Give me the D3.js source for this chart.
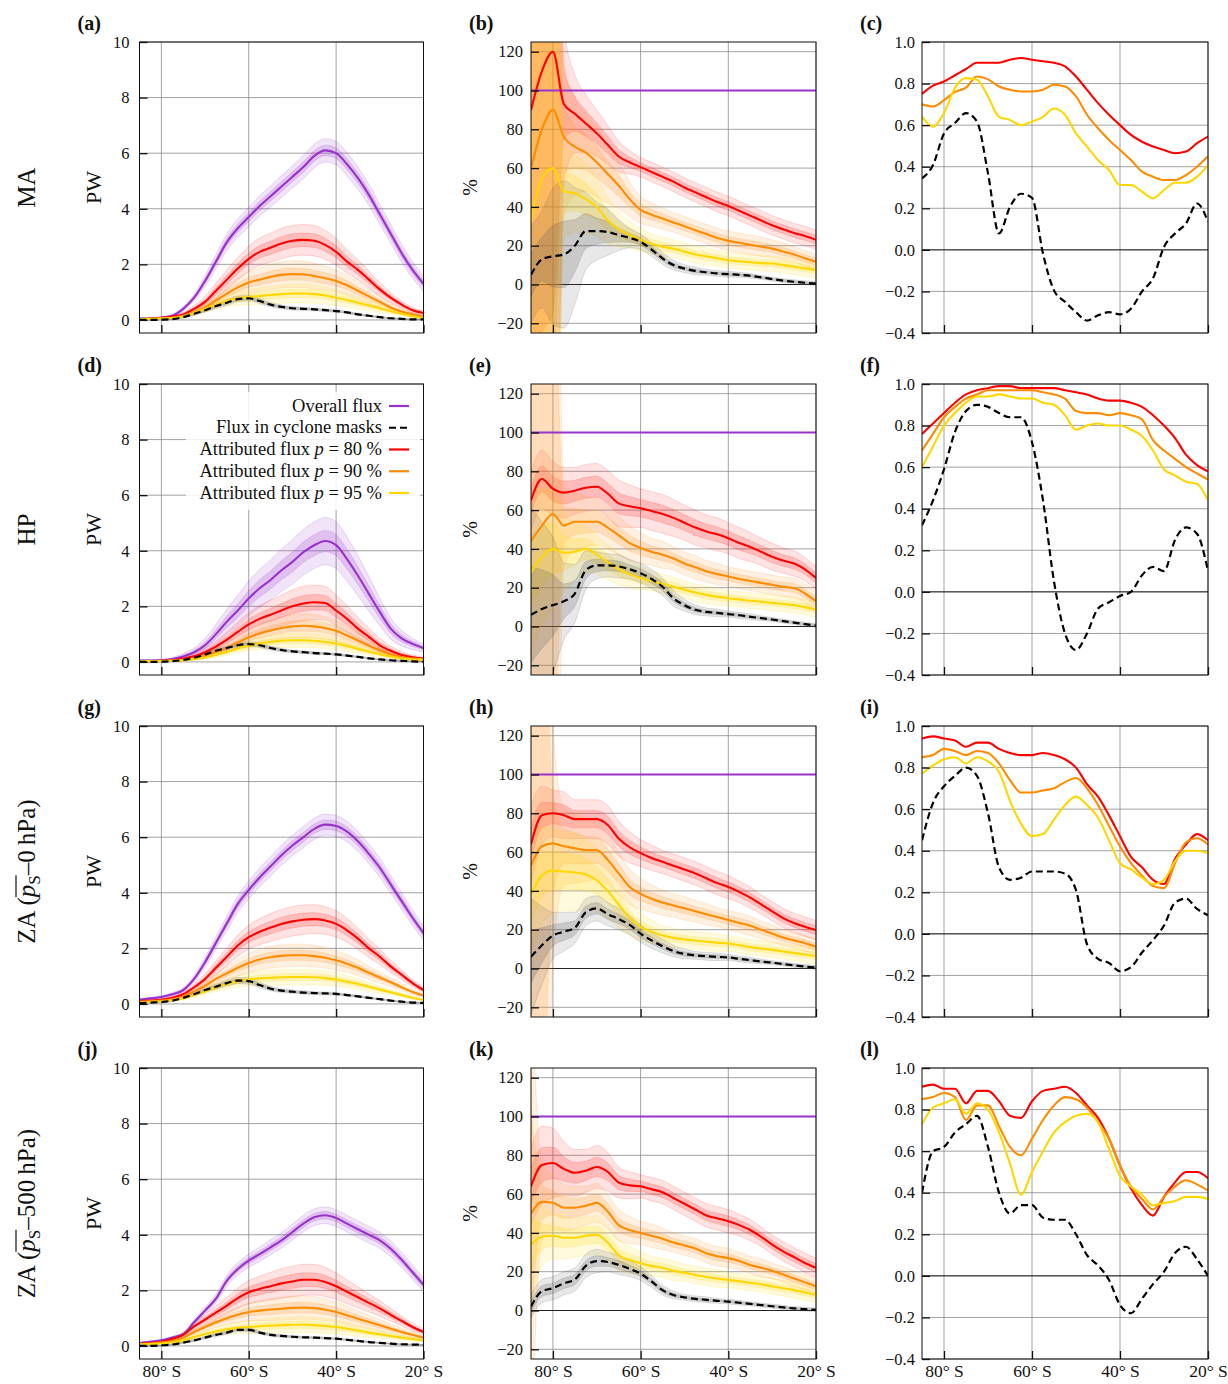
<!DOCTYPE html>
<html><head><meta charset="utf-8">
<script src="https://cdn.jsdelivr.net/npm/d3@7"></script>
<style>
body{margin:0;background:#fff}
text{font-family:"Liberation Serif","DejaVu Serif",serif;fill:#111}
</style>
</head><body>
<svg id="c" width="1228" height="1384"></svg>
<script>
// ---------------- DATA ----------------
const lat = [-85,-82.5,-80,-77.5,-75,-72.5,-70,-67.5,-65,-62.5,-60,-57.5,-55,-52.5,-50,-47.5,-45,-42.5,-40,-37.5,-35,-32.5,-30,-27.5,-25,-22.5,-20];
const xTickValues = [-80,-60,-40,-20];
const fluxTicks = [0,2,4,6,8,10];
const pctTicks = [-20,0,20,40,60,80,100,120];
const corrTicks = [-0.4,-0.2,0,0.2,0.4,0.6,0.8,1.0];
const rowLabels = ["MA","HP","ZA0","ZA500"];
const panelLetters = ["a","b","c","d","e","f","g","h","i","j","k","l"];
const legendLabels = ["Overall flux","Flux in cyclone masks","Attributed flux p = 80 %","Attributed flux p = 90 %","Attributed flux p = 95 %"];
const OVERALL_PCT = 100;

// ---- (a) MA flux, PW ----
const MA_flux_overall = [0.05,0.06,0.08,0.15,0.4,0.8,1.4,2.1,2.8,3.3,3.7,4.1,4.45,4.8,5.15,5.5,5.9,6.1,6.0,5.6,5.1,4.5,3.8,3.1,2.4,1.8,1.3];
const MA_flux_p80 = [0.03,0.04,0.08,0.12,0.2,0.4,0.65,1.05,1.45,1.85,2.2,2.45,2.6,2.75,2.85,2.88,2.85,2.7,2.45,2.1,1.8,1.45,1.1,0.8,0.55,0.35,0.25];
const MA_flux_p90 = [0.03,0.04,0.06,0.08,0.15,0.28,0.45,0.7,0.95,1.17,1.35,1.45,1.55,1.62,1.65,1.64,1.58,1.5,1.4,1.25,1.05,0.85,0.65,0.45,0.3,0.2,0.12];
const MA_flux_p95 = [0.03,0.04,0.05,0.07,0.12,0.25,0.4,0.55,0.68,0.77,0.82,0.86,0.9,0.93,0.95,0.95,0.93,0.88,0.8,0.72,0.62,0.52,0.42,0.32,0.22,0.13,0.07];
const MA_flux_cyc = [0,0,0.01,0.03,0.1,0.22,0.35,0.5,0.62,0.75,0.78,0.68,0.55,0.47,0.42,0.4,0.38,0.35,0.32,0.27,0.2,0.15,0.1,0.06,0.04,0.02,0.02];
const MA_flux_overall_sd = [.03,.03,.04,.05,.08,.12,.2,.25,.3,.33,.35,.37,.38,.4,.4,.42,.42,.42,.42,.42,.4,.38,.36,.34,.32,.3,.28];
const MA_flux_p80_sd = [.02,.02,.03,.04,.07,.12,.2,.28,.35,.4,.45,.5,.52,.55,.55,.55,.55,.52,.48,.42,.36,.3,.24,.18,.13,.1,.08];
const MA_flux_p90_sd = [.02,.02,.02,.03,.06,.1,.15,.22,.28,.33,.38,.42,.45,.47,.48,.48,.46,.43,.4,.36,.31,.26,.2,.15,.1,.07,.05];
const MA_flux_p95_sd = [.02,.02,.02,.03,.05,.08,.12,.16,.2,.24,.27,.3,.32,.33,.34,.34,.33,.31,.28,.25,.22,.18,.14,.1,.07,.05,.03];
const MA_flux_cyc_sd = [.01,.01,.01,.02,.03,.05,.07,.09,.1,.1,.1,.09,.08,.07,.06,.06,.05,.05,.05,.04,.04,.03,.03,.02,.02,.02,.02];

// ---- (d) HP flux ----
const HP_flux_overall = [0.05,0.05,0.06,0.1,0.2,0.35,0.6,1.0,1.45,1.85,2.28,2.65,2.95,3.3,3.6,3.95,4.2,4.35,4.2,3.7,3.1,2.45,1.8,1.2,0.85,0.65,0.5];
const HP_flux_p80 = [0.03,0.03,0.04,0.06,0.12,0.2,0.35,0.55,0.8,1.08,1.35,1.55,1.7,1.85,2.0,2.1,2.15,2.12,1.85,1.55,1.2,0.9,0.6,0.4,0.25,0.17,0.12];
const HP_flux_p90 = [0.03,0.03,0.04,0.05,0.08,0.13,0.22,0.36,0.5,0.7,0.88,1.02,1.13,1.22,1.28,1.3,1.28,1.22,1.12,0.95,0.77,0.58,0.42,0.28,0.18,0.12,0.1];
const HP_flux_p95 = [0.03,0.03,0.03,0.04,0.06,0.1,0.16,0.26,0.36,0.48,0.58,0.66,0.72,0.76,0.78,0.78,0.76,0.72,0.66,0.57,0.47,0.37,0.28,0.2,0.13,0.09,0.07];
const HP_flux_cyc = [0,0,0.01,0.03,0.07,0.15,0.27,0.4,0.5,0.6,0.64,0.6,0.5,0.43,0.38,0.35,0.32,0.3,0.27,0.23,0.18,0.13,0.09,0.06,0.04,0.02,0.01];
const HP_flux_overall_sd = [.03,.03,.04,.06,.1,.15,.25,.35,.45,.55,.62,.68,.72,.76,.8,.82,.84,.85,.84,.8,.72,.62,.5,.38,.28,.2,.15];
const HP_flux_p80_sd = [.02,.02,.02,.03,.05,.08,.14,.2,.28,.35,.42,.48,.52,.56,.6,.62,.62,.6,.55,.48,.4,.32,.24,.17,.12,.08,.06];
const HP_flux_p90_sd = [.02,.02,.02,.02,.03,.05,.08,.12,.17,.22,.28,.33,.37,.4,.42,.43,.42,.4,.37,.33,.28,.22,.17,.12,.08,.06,.05];
const HP_flux_p95_sd = [.02,.02,.02,.02,.03,.04,.06,.09,.12,.15,.18,.21,.23,.25,.26,.26,.25,.24,.22,.19,.16,.13,.1,.07,.05,.04,.03];
const HP_flux_cyc_sd = [.01,.01,.01,.01,.02,.03,.05,.07,.08,.09,.09,.08,.07,.06,.05,.05,.05,.04,.04,.04,.03,.03,.02,.02,.02,.01,.01];

// ---- (g) ZA ps-0hPa flux ----
const ZA0_flux_overall = [0.15,0.2,0.25,0.35,0.5,0.9,1.5,2.2,2.9,3.6,4.1,4.55,4.95,5.35,5.7,6.0,6.3,6.45,6.4,6.2,5.85,5.4,4.9,4.3,3.7,3.1,2.55];
const ZA0_flux_p80 = [0.1,0.12,0.15,0.22,0.35,0.6,0.9,1.3,1.7,2.1,2.4,2.6,2.75,2.88,2.97,3.03,3.05,3.0,2.88,2.65,2.35,2.0,1.7,1.35,1.05,0.75,0.5];
const ZA0_flux_p90 = [0.08,0.1,0.12,0.17,0.27,0.45,0.65,0.9,1.1,1.3,1.47,1.6,1.68,1.73,1.75,1.75,1.72,1.66,1.57,1.45,1.3,1.12,0.95,0.78,0.6,0.43,0.3];
const ZA0_flux_p95 = [0.06,0.07,0.09,0.13,0.2,0.32,0.45,0.6,0.72,0.82,0.88,0.92,0.94,0.96,0.97,0.97,0.96,0.93,0.88,0.8,0.72,0.62,0.52,0.42,0.32,0.22,0.15];
const ZA0_flux_cyc = [0.03,0.05,0.07,0.12,0.22,0.35,0.5,0.62,0.75,0.84,0.82,0.68,0.55,0.48,0.44,0.41,0.39,0.38,0.36,0.32,0.27,0.22,0.17,0.12,0.08,0.05,0.04];
const ZA0_flux_overall_sd = [.03,.04,.05,.06,.08,.12,.18,.22,.26,.3,.32,.34,.35,.36,.37,.38,.38,.38,.38,.37,.36,.35,.34,.32,.3,.28,.26];
const ZA0_flux_p80_sd = [.03,.03,.04,.05,.08,.12,.18,.25,.32,.38,.43,.47,.5,.52,.53,.53,.52,.5,.47,.43,.38,.33,.28,.22,.17,.13,.1];
const ZA0_flux_p90_sd = [.02,.02,.03,.04,.06,.1,.15,.2,.25,.3,.34,.37,.39,.4,.4,.4,.39,.37,.35,.32,.28,.24,.2,.16,.12,.09,.07];
const ZA0_flux_p95_sd = [.02,.02,.02,.03,.05,.08,.11,.15,.18,.21,.24,.26,.27,.28,.28,.28,.27,.26,.24,.22,.19,.16,.13,.1,.08,.06,.04];
const ZA0_flux_cyc_sd = [.01,.01,.02,.02,.03,.05,.07,.09,.1,.11,.11,.1,.08,.07,.06,.06,.05,.05,.05,.04,.04,.03,.03,.02,.02,.02,.01];

// ---- (j) ZA ps-500hPa flux ----
const ZA500_flux_overall = [0.1,0.15,0.2,0.3,0.42,0.85,1.27,1.7,2.35,2.77,3.07,3.3,3.55,3.8,4.1,4.4,4.63,4.7,4.6,4.4,4.2,4.0,3.8,3.5,3.1,2.65,2.2];
const ZA500_flux_p80 = [0.08,0.1,0.15,0.25,0.4,0.7,0.95,1.2,1.45,1.72,1.93,2.05,2.15,2.25,2.32,2.38,2.38,2.3,2.15,1.95,1.75,1.55,1.35,1.12,0.9,0.68,0.5];
const ZA500_flux_p90 = [0.07,0.09,0.12,0.18,0.3,0.5,0.68,0.85,1.0,1.12,1.22,1.27,1.31,1.34,1.37,1.38,1.36,1.3,1.22,1.1,0.98,0.86,0.74,0.62,0.5,0.4,0.3];
const ZA500_flux_p95 = [0.06,0.07,0.09,0.13,0.2,0.32,0.43,0.52,0.6,0.65,0.68,0.71,0.73,0.75,0.76,0.77,0.75,0.72,0.68,0.62,0.55,0.48,0.42,0.36,0.3,0.25,0.2];
const ZA500_flux_cyc = [0,0,0.02,0.05,0.12,0.2,0.3,0.4,0.48,0.58,0.58,0.48,0.4,0.36,0.33,0.31,0.3,0.28,0.26,0.22,0.18,0.14,0.11,0.08,0.06,0.05,0.04];
const ZA500_flux_overall_sd = [.03,.03,.04,.05,.07,.1,.13,.16,.2,.22,.24,.26,.27,.28,.29,.3,.3,.3,.3,.3,.3,.3,.29,.28,.27,.26,.25];
const ZA500_flux_p80_sd = [.02,.03,.04,.05,.08,.12,.18,.24,.3,.36,.42,.46,.5,.53,.55,.56,.55,.52,.48,.43,.38,.33,.28,.23,.18,.14,.1];
const ZA500_flux_p90_sd = [.02,.02,.03,.04,.06,.1,.14,.18,.23,.28,.32,.36,.39,.41,.42,.42,.41,.39,.36,.33,.29,.25,.21,.17,.13,.1,.08];
const ZA500_flux_p95_sd = [.02,.02,.02,.03,.05,.08,.11,.14,.17,.2,.23,.25,.27,.28,.29,.29,.28,.27,.25,.23,.2,.17,.14,.11,.09,.07,.05];
const ZA500_flux_cyc_sd = [.01,.01,.01,.02,.03,.04,.05,.06,.07,.07,.07,.06,.05,.05,.04,.04,.04,.04,.03,.03,.03,.03,.02,.02,.02,.02,.02];

// ---- (b) MA percent ----
const MA_pct_p80 = [90,110,120,93,88,83,78,72,66,63,60.5,58,55.5,53,50,47.5,45,42.5,40.5,38,35.5,33,30.5,28.5,26.5,25,23];
const MA_pct_p90 = [60,80,90,76,71,68,63,57,51,44,38.5,36,34,32,30,28,26,24,22.5,21.5,20.5,19.5,18.5,17,15.5,13.5,11.7];
const MA_pct_p95 = [33,55,60,48,47,44,40,33,28.5,25.5,23,21,19.5,18.5,17,15.5,14.5,13.5,12.5,12,11.5,11,10.8,10,9.2,8.3,7.4];
const MA_pct_cyc = [5,13,14.5,15.5,20,27.5,27.5,27,25.5,24,22,18,13.5,10,8.2,7,6.3,5.7,5.3,5,4.5,3.7,2.8,2,1.4,0.9,0.5];
const MA_pct_p80_sd = [300,300,300,40,20,15,12,10,8,6,5,5,5,5,5,5,5,5,5,5,5,5,5,5,5,5,5];
const MA_pct_p90_sd = [300,300,300,40,25,20,18,15,12,9,7,6,5.5,5,5,5,5,5,5,5,5,5,4.5,4.5,4,4,4];
const MA_pct_p95_sd = [300,300,300,25,20,18,15,12,9,7,6,5,5,4.5,4.5,4.5,4.5,4,4,4,4,4,4,4,4,4,4];
const MA_pct_cyc_sd = [25,25,35,38,30,20,15,12,8,5,4,3.5,3,2.5,2,2,1.5,1.5,1.5,1.2,1.2,1,1,1,1,1,1];

// ---- (e) HP percent ----
const HP_pct_p80 = [65,76,71,69,70,71.5,72,68.5,63.5,62,61,59.5,58,56,53.5,51,49,47.5,45.5,43,41,38.5,36,34,32.5,29.5,25];
const HP_pct_p90 = [44,52,58,52,54,54,54,51,47,43,40.5,38.5,37,35,32.5,30.5,28.5,27,25.8,24.5,23.5,22.5,21.5,20.5,19.8,17,13];
const HP_pct_p95 = [28,36,40,38,38.5,40,37,33,29.5,27,25,23.5,22,20.5,19,17.5,16.3,15.4,14.6,14,13.3,12.8,12.2,11.6,11,10,8.6];
const HP_pct_cyc = [6,9,11,13,17,29,31.5,31.5,31,29.5,27.5,24.5,20.5,14.5,11,8.6,7.5,7,6.4,5.8,5,4.3,3.6,2.8,2,1.2,0.5];
const HP_pct_p80_sd = [15,15,14,13,12,12,12,12,12,11,10,10,10,9.5,9,9,8.5,8.5,8,8,7.5,7,7,6.5,6.5,6,6];
const HP_pct_p90_sd = [300,300,300,20,15,13,12,11,10,9,8,7,7,6,6,6,5.5,5.5,5,5,5,5,5,5,5,5,5];
const HP_pct_p95_sd = [40,35,30,20,15,12,10,9,8,7,6,5,5,5,4.5,4.5,4.5,4.5,4,4,4,4,4,4,4,4,4];
const HP_pct_cyc_sd = [55,45,35,20,15,10,7,6,6,5,5,5,4.5,4,3,2.5,2,2,1.5,1.5,1.5,1.2,1,1,1,1,1];

// ---- (h) ZA0 percent ----
const ZA0_pct_p80 = [64,79,80,79,77,77,77,74,67,62.5,59.5,57,55,53,51,49,46.5,44,42,39.5,36.5,33,29.5,26,23.5,21.5,19.8];
const ZA0_pct_p90 = [53,63,64.5,63,62,61,61,56,49,42,38.5,36,34,32.5,31,29.5,28,26.5,25,23.5,22,20,18,16,14.5,13,11.2];
const ZA0_pct_p95 = [38,48,50.5,50,49.5,48.5,45.5,40,33,26,21.5,19,17,15.8,15,14.4,13.8,13.3,12.9,12,11,10.3,9.6,8.8,8,7.2,6.4];
const ZA0_pct_cyc = [6,12,17,19,21,29,31,28,25.5,22.5,18,14.5,11.5,9,7.5,6.8,6.3,6,5.7,5,4.3,3.6,3,2.3,1.6,1,0.5];
const ZA0_pct_p80_sd = [20,15,12,12,10,10,10,10,9,8,7,6.5,6,6,6,6,6,6,6,5.5,5.5,5,5,5,5,5,5];
const ZA0_pct_p90_sd = [300,300,60,20,18,16,15,13,11,9,8,7,6.5,6,6,5.5,5.5,5,5,5,5,4.5,4.5,4,4,4,4];
const ZA0_pct_p95_sd = [30,25,22,20,20,18,16,14,12,9,7,6,5,5,4.5,4.5,4.5,4.5,4,4,4,4,4,4,4,4,4];
const ZA0_pct_cyc_sd = [30,20,12,10,8,7,6.5,6,5.5,5,4.5,4,3.5,3,2.5,2,2,2,1.5,1.5,1.5,1.2,1,1,1,1,1];

// ---- (k) ZA500 percent ----
const ZA500_pct_p80 = [64,75,76,73,71,72,74,71.5,66,64.5,64,62.5,61,58,55,52,49,47.5,46,44,41.5,38,34,30.5,27.5,24.5,22];
const ZA500_pct_p90 = [50,56,55.5,53,53,54,55.5,51,44,41.5,40,38.5,37,35,33.5,32,29.5,28,27,25.5,23.5,22,20.5,18.5,16.5,14.5,12.5];
const ZA500_pct_p95 = [34,38,38.5,37.5,37.5,38.5,39,35,28.5,26,24.4,23,22,20.5,19.5,18.3,17.3,16.5,15.8,15,14.3,13.5,12.5,11.5,10.5,9.3,8];
const ZA500_pct_cyc = [2,10,11.5,14,16,23,25.5,25,23.5,21.5,19,15,10.5,8,6.8,6,5.5,5,4.6,4,3.4,2.8,2.2,1.6,1.1,0.7,0.3];
const ZA500_pct_p80_sd = [20,20,18,14,12,11,11,10,8,7,6,6,6,6,6,6,6,6,6,5.5,5.5,5,5,5,5,5,5];
const ZA500_pct_p90_sd = [120,20,14,12,11,10,10,9,8,7,6,6,5.5,5,5,5,5,5,5,4.5,4.5,4.5,4,4,4,4,4];
const ZA500_pct_p95_sd = [30,15,12,11,10,10,10,9,8,7,6,5,5,5,4.5,4.5,4.5,4.5,4,4,4,4,4,4,4,4,4];
const ZA500_pct_cyc_sd = [6,6,6,6,6,6,6,5,5,4,3.5,3,2.5,2,1.5,1.5,1.5,1.2,1.2,1.2,1,1,1,1,1,1,1];

// ---- (c) MA correlation ----
const MA_corr_p80 = [0.75,0.79,0.81,0.84,0.87,0.9,0.9,0.9,0.915,0.923,0.915,0.907,0.9,0.883,0.834,0.77,0.706,0.65,0.6,0.553,0.52,0.497,0.48,0.465,0.473,0.513,0.545];
const MA_corr_p90 = [0.7,0.69,0.72,0.76,0.78,0.834,0.82,0.786,0.77,0.762,0.762,0.77,0.794,0.786,0.738,0.65,0.585,0.529,0.48,0.432,0.376,0.352,0.336,0.336,0.36,0.4,0.45];
const MA_corr_p95 = [0.64,0.593,0.658,0.78,0.826,0.818,0.738,0.64,0.625,0.6,0.617,0.64,0.68,0.65,0.56,0.497,0.432,0.384,0.312,0.312,0.28,0.248,0.288,0.323,0.323,0.352,0.408];
const MA_corr_cyc = [0.344,0.408,0.56,0.61,0.658,0.617,0.368,0.079,0.207,0.27,0.25,-0.018,-0.195,-0.25,-0.3,-0.34,-0.315,-0.3,-0.31,-0.283,-0.2,-0.137,0.014,0.079,0.127,0.223,0.135];

// ---- (f) HP correlation ----
const HP_corr_p80 = [0.76,0.81,0.86,0.91,0.95,0.97,0.98,0.99,0.99,0.98,0.98,0.98,0.98,0.97,0.96,0.95,0.93,0.92,0.92,0.91,0.89,0.85,0.8,0.74,0.66,0.61,0.58];
const HP_corr_p90 = [0.68,0.76,0.84,0.89,0.93,0.95,0.97,0.97,0.97,0.97,0.97,0.96,0.95,0.93,0.87,0.86,0.86,0.85,0.86,0.85,0.83,0.73,0.68,0.64,0.6,0.57,0.54];
const HP_corr_p95 = [0.6,0.7,0.8,0.86,0.91,0.94,0.94,0.95,0.94,0.93,0.93,0.91,0.9,0.85,0.78,0.8,0.81,0.8,0.8,0.78,0.75,0.68,0.59,0.56,0.53,0.52,0.44];
const HP_corr_cyc = [0.32,0.44,0.59,0.77,0.87,0.9,0.89,0.86,0.84,0.84,0.72,0.44,0.05,-0.2,-0.28,-0.2,-0.08,-0.05,-0.02,0,0.08,0.12,0.1,0.25,0.31,0.28,0.1];

// ---- (i) ZA0 correlation ----
const ZA0_corr_p80 = [0.94,0.95,0.94,0.93,0.9,0.92,0.92,0.89,0.87,0.86,0.86,0.87,0.86,0.84,0.8,0.72,0.66,0.57,0.47,0.37,0.32,0.26,0.24,0.36,0.43,0.48,0.45];
const ZA0_corr_p90 = [0.85,0.86,0.89,0.88,0.86,0.88,0.87,0.82,0.74,0.68,0.68,0.69,0.7,0.73,0.75,0.7,0.62,0.52,0.42,0.34,0.28,0.23,0.22,0.34,0.44,0.46,0.43];
const ZA0_corr_p95 = [0.77,0.81,0.84,0.85,0.82,0.85,0.83,0.78,0.64,0.53,0.47,0.48,0.55,0.62,0.66,0.62,0.56,0.45,0.34,0.31,0.27,0.24,0.26,0.35,0.4,0.4,0.39];
const ZA0_corr_cyc = [0.45,0.63,0.71,0.76,0.8,0.76,0.58,0.32,0.26,0.27,0.3,0.3,0.3,0.29,0.21,-0.05,-0.12,-0.14,-0.18,-0.16,-0.09,-0.03,0.04,0.15,0.17,0.12,0.09];

// ---- (l) ZA500 correlation ----
const ZA500_corr_p80 = [0.91,0.92,0.9,0.9,0.83,0.89,0.89,0.84,0.77,0.76,0.84,0.89,0.9,0.91,0.88,0.82,0.76,0.66,0.53,0.42,0.34,0.29,0.38,0.45,0.5,0.5,0.47];
const ZA500_corr_p90 = [0.85,0.86,0.88,0.86,0.75,0.82,0.82,0.72,0.62,0.58,0.66,0.75,0.82,0.86,0.85,0.81,0.74,0.66,0.53,0.43,0.37,0.32,0.38,0.43,0.46,0.44,0.41];
const ZA500_corr_p95 = [0.73,0.81,0.83,0.85,0.78,0.83,0.8,0.69,0.54,0.39,0.5,0.6,0.69,0.74,0.77,0.78,0.74,0.61,0.48,0.43,0.39,0.34,0.35,0.36,0.38,0.38,0.37];
const ZA500_corr_cyc = [0.4,0.6,0.62,0.69,0.73,0.77,0.62,0.4,0.3,0.34,0.34,0.28,0.27,0.27,0.2,0.1,0.05,-0.02,-0.14,-0.18,-0.11,-0.04,0.02,0.11,0.14,0.08,0];

// ---------------- LAYOUT / STYLE ----------------
const X0 = [139.5, 531, 922], W = [284, 285, 286];
const Y0 = [42, 384, 726, 1068], H = 291;
const PAD = [10, 8, 7];
const DOM = {flux:[-0.47,10], pct:[-25,125], corr:[-0.4,1.0]};
const TICKS = {flux:fluxTicks, pct:pctTicks, corr:corrTicks};
const FMT = {flux:d3.format("d"), pct:d3.format("d"), corr:d3.format(".1f")};
const COL = {overall:"#9932CC", p80:"#FF0000", p90:"#FF8C00", p95:"#FFD700", cyc:"#000000"};
const BAND = {overall:"#9932CC", p80:"#FF2020", p90:"#FF9020", p95:"#FFD700", cyc:"#505050"};
const FONT = '"Liberation Serif", serif';
const DASH = "7,4";

const svg = d3.select("#c");
const S = (key, vals, sd) => ({key, vals, sd});

function drawPanel(ci, ri, kind, series){
  const letter = panelLetters[ri*3+ci];
  const x0 = X0[ci], y0 = Y0[ri], w = W[ci];
  const x = d3.scaleLinear().domain([-85,-20]).range([x0, x0+w]);
  const y = d3.scaleLinear().domain(DOM[kind]).range([y0+H, y0]);
  const g = svg.append("g");
  const cid = "clip_"+letter;
  svg.append("clipPath").attr("id", cid).append("rect")
     .attr("x", x0).attr("y", y0).attr("width", w).attr("height", H);

  // grid
  g.append("g").selectAll("line").data(xTickValues).join("line")
    .attr("x1", d=>x(d)).attr("x2", d=>x(d)).attr("y1", y0).attr("y2", y0+H)
    .attr("stroke", "#8a8a8a").attr("stroke-width", 0.8);
  g.append("g").selectAll("line").data(TICKS[kind]).join("line")
    .attr("x1", x0).attr("x2", x0+w).attr("y1", d=>y(d)).attr("y2", d=>y(d))
    .attr("stroke", "#8a8a8a").attr("stroke-width", 0.8);
  if (kind !== "flux") {
    g.append("line").attr("x1", x0).attr("x2", x0+w).attr("y1", y(0)).attr("y2", y(0))
      .attr("stroke", "#222").attr("stroke-width", 1);
  }

  const pg = g.append("g").attr("clip-path", `url(#${cid})`);
  // bands
  series.forEach(s => {
    if (!s.sd) return;
    [1, 0.45].forEach((f, k) => {
      const area = d3.area()
        .x((d,i)=>x(lat[i]))
        .y0((d,i)=>y(s.vals[i] - f*s.sd[i]))
        .y1((d,i)=>y(s.vals[i] + f*s.sd[i]))
        .curve(d3.curveMonotoneX);
      pg.append("path").attr("d", area(s.vals))
        .attr("fill", BAND[s.key]).attr("fill-opacity", k===0 ? 0.13 : 0.2)
        .attr("stroke", BAND[s.key]).attr("stroke-opacity", 0.22).attr("stroke-width", 0.8);
    });
  });
  // 100% overall line
  if (kind === "pct") {
    pg.append("line").attr("x1", x(-85)).attr("x2", x(-20))
      .attr("y1", y(OVERALL_PCT)).attr("y2", y(OVERALL_PCT))
      .attr("stroke", COL.overall).attr("stroke-width", 2.2);
  }
  // lines
  const order = ["overall","p80","p90","p95","cyc"];
  order.forEach(key => {
    const s = series.find(t => t.key === key);
    if (!s) return;
    const line = d3.line().x((d,i)=>x(lat[i])).y(d=>y(d)).curve(d3.curveMonotoneX);
    pg.append("path").attr("d", line(s.vals)).attr("fill", "none")
      .attr("stroke", COL[key]).attr("stroke-width", key === "cyc" ? 2.2 : 2.1)
      .attr("stroke-dasharray", key === "cyc" ? DASH : null);
  });

  // frame
  g.append("rect").attr("x", x0).attr("y", y0).attr("width", w).attr("height", H)
    .attr("fill", "none").attr("stroke", "#111").attr("stroke-width", 1);

  // axes
  const ay = g.append("g").attr("transform", `translate(${x0},0)`)
    .call(d3.axisLeft(y).tickValues(TICKS[kind]).tickSize(-8).tickPadding(PAD[ci]).tickFormat(FMT[kind]));
  ay.select(".domain").remove();
  const showX = ri === 3;
  const ax = g.append("g").attr("transform", `translate(0,${y0+H})`)
    .call(d3.axisBottom(x).tickValues(xTickValues).tickSize(-8).tickPadding(6)
      .tickFormat(showX ? (d => `${-d}° S`) : (() => "")));
  ax.select(".domain").remove();
  [ay, ax].forEach(a => {
    a.selectAll(".tick line").attr("stroke", "#111").attr("stroke-width", 1.3);
    a.selectAll(".tick text").attr("fill", "#111").style("font-family", FONT);
  });
  ay.selectAll(".tick text").style("font-size", "16.5px");
  ax.selectAll(".tick text").style("font-size", "17.5px");

  // panel letter
  svg.append("text").attr("x", x0-62).attr("y", y0-12.5).text(`(${letter})`)
    .style("font-size", "20px").style("font-weight", "bold");

  // y label
  const cy = y0 + H/2;
  if (kind === "flux") {
    svg.append("text").attr("transform", `translate(${x0-39},${cy}) rotate(-90)`)
      .attr("text-anchor", "middle").text("PW").style("font-size", "22px");
  } else if (kind === "pct") {
    svg.append("text").attr("transform", `translate(${x0-54},${cy}) rotate(-90)`)
      .attr("text-anchor", "middle").text("%").style("font-size", "20px");
  }
}

const rowsData = [
  {flux:[S("overall",MA_flux_overall,MA_flux_overall_sd),S("p80",MA_flux_p80,MA_flux_p80_sd),S("p90",MA_flux_p90,MA_flux_p90_sd),S("p95",MA_flux_p95,MA_flux_p95_sd),S("cyc",MA_flux_cyc,MA_flux_cyc_sd)],
   pct:[S("p80",MA_pct_p80,MA_pct_p80_sd),S("p90",MA_pct_p90,MA_pct_p90_sd),S("p95",MA_pct_p95,MA_pct_p95_sd),S("cyc",MA_pct_cyc,MA_pct_cyc_sd)],
   corr:[S("p80",MA_corr_p80),S("p90",MA_corr_p90),S("p95",MA_corr_p95),S("cyc",MA_corr_cyc)]},
  {flux:[S("overall",HP_flux_overall,HP_flux_overall_sd),S("p80",HP_flux_p80,HP_flux_p80_sd),S("p90",HP_flux_p90,HP_flux_p90_sd),S("p95",HP_flux_p95,HP_flux_p95_sd),S("cyc",HP_flux_cyc,HP_flux_cyc_sd)],
   pct:[S("p80",HP_pct_p80,HP_pct_p80_sd),S("p90",HP_pct_p90,HP_pct_p90_sd),S("p95",HP_pct_p95,HP_pct_p95_sd),S("cyc",HP_pct_cyc,HP_pct_cyc_sd)],
   corr:[S("p80",HP_corr_p80),S("p90",HP_corr_p90),S("p95",HP_corr_p95),S("cyc",HP_corr_cyc)]},
  {flux:[S("overall",ZA0_flux_overall,ZA0_flux_overall_sd),S("p80",ZA0_flux_p80,ZA0_flux_p80_sd),S("p90",ZA0_flux_p90,ZA0_flux_p90_sd),S("p95",ZA0_flux_p95,ZA0_flux_p95_sd),S("cyc",ZA0_flux_cyc,ZA0_flux_cyc_sd)],
   pct:[S("p80",ZA0_pct_p80,ZA0_pct_p80_sd),S("p90",ZA0_pct_p90,ZA0_pct_p90_sd),S("p95",ZA0_pct_p95,ZA0_pct_p95_sd),S("cyc",ZA0_pct_cyc,ZA0_pct_cyc_sd)],
   corr:[S("p80",ZA0_corr_p80),S("p90",ZA0_corr_p90),S("p95",ZA0_corr_p95),S("cyc",ZA0_corr_cyc)]},
  {flux:[S("overall",ZA500_flux_overall,ZA500_flux_overall_sd),S("p80",ZA500_flux_p80,ZA500_flux_p80_sd),S("p90",ZA500_flux_p90,ZA500_flux_p90_sd),S("p95",ZA500_flux_p95,ZA500_flux_p95_sd),S("cyc",ZA500_flux_cyc,ZA500_flux_cyc_sd)],
   pct:[S("p80",ZA500_pct_p80,ZA500_pct_p80_sd),S("p90",ZA500_pct_p90,ZA500_pct_p90_sd),S("p95",ZA500_pct_p95,ZA500_pct_p95_sd),S("cyc",ZA500_pct_cyc,ZA500_pct_cyc_sd)],
   corr:[S("p80",ZA500_corr_p80),S("p90",ZA500_corr_p90),S("p95",ZA500_corr_p95),S("cyc",ZA500_corr_cyc)]}
];

rowsData.forEach((r, ri) => {
  drawPanel(0, ri, "flux", r.flux);
  drawPanel(1, ri, "pct", r.pct);
  drawPanel(2, ri, "corr", r.corr);
});

// ---------------- ROW LABELS ----------------
function rowLabel(ri){
  const cy = Y0[ri] + H/2;
  const g = svg.append("g").attr("transform", `translate(35,${cy}) rotate(-90)`);
  const t = g.append("text").attr("text-anchor", "middle").style("font-size", "25px");
  const lab = rowLabels[ri];
  if (lab === "MA" || lab === "HP") { t.text(lab); return; }
  const lev = lab === "ZA0" ? "0" : "500";
  t.append("tspan").text("ZA (");
  t.append("tspan").text("p").style("font-style", "italic");
  t.append("tspan").text("S").attr("dy", 5).style("font-size", "17px");
  t.append("tspan").text(`–${lev}\u2009hPa)`).attr("dy", -5);
  const node = t.node();
  const s = node.getStartPositionOfChar(4), e = node.getEndPositionOfChar(5);
  g.append("line").attr("x1", s.x).attr("x2", e.x).attr("y1", -19).attr("y2", -19)
    .attr("stroke", "#111").attr("stroke-width", 1.2);
}
[0,1,2,3].forEach(rowLabel);

// ---------------- LEGEND (panel d) ----------------
(function legend(){
  const y0 = Y0[1];
  svg.append("rect").attr("x", 186).attr("y", y0+8).attr("width", 234).attr("height", 118)
    .attr("fill", "#fff").attr("fill-opacity", 0.85);
  const keys = ["overall","cyc","p80","p90","p95"];
  keys.forEach((k, i) => {
    const by = y0 + 27.5 + 21.75*i;
    const t = svg.append("text").attr("x", 382).attr("y", by).attr("text-anchor", "end")
      .style("font-size", "18.5px");
    const lab = legendLabels[i];
    const pIdx = lab.indexOf(" p ");
    if (pIdx >= 0) {
      t.append("tspan").text(lab.slice(0, pIdx+1));
      t.append("tspan").text("p").style("font-style", "italic");
      t.append("tspan").text(lab.slice(pIdx+2));
    } else t.text(lab);
    svg.append("line").attr("x1", 389).attr("x2", 409).attr("y1", by-5.5).attr("y2", by-5.5)
      .attr("stroke", COL[k]).attr("stroke-width", 2.2)
      .attr("stroke-dasharray", k === "cyc" ? DASH : null);
  });
})();
</script>
</body></html>
